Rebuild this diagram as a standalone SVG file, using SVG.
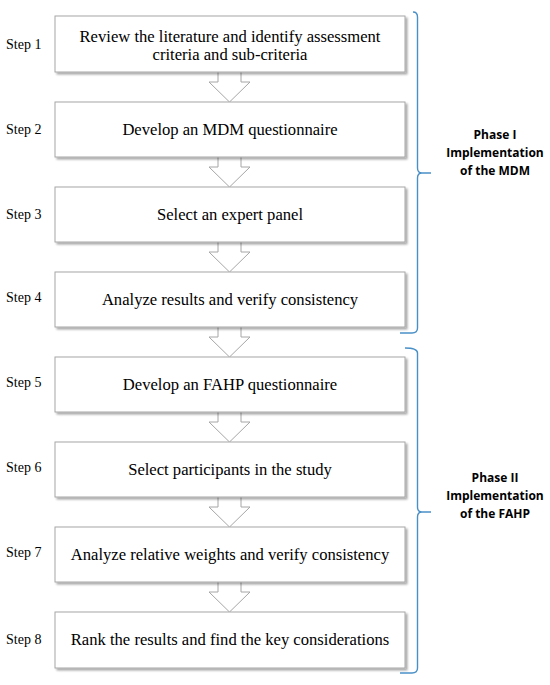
<svg xmlns="http://www.w3.org/2000/svg" width="550" height="685" viewBox="0 0 550 685">
<defs>
<filter id="sh" x="-5%" y="-10%" width="115%" height="130%">
<feGaussianBlur in="SourceAlpha" stdDeviation="1.2"/>
<feOffset dx="1.5" dy="1.5"/>
<feComponentTransfer><feFuncA type="linear" slope="0.35"/></feComponentTransfer>
<feMerge><feMergeNode/><feMergeNode in="SourceGraphic"/></feMerge>
</filter>
</defs>
<style>
.box{fill:#fff;stroke:#a6a6a6;stroke-width:1;filter:url(#sh)}
.arr{fill:#fff;stroke:#a6a6a6;stroke-width:1}
.t{font-family:"Liberation Serif",serif;font-size:16.6px;fill:#000;text-anchor:middle}
.s{font-family:"Liberation Serif",serif;font-size:14px;fill:#000}
.br{fill:none;stroke:#4a90c8;stroke-width:1.4}
.ph{font-family:"Open Sans","Liberation Sans",sans-serif;font-weight:bold;font-size:12px;fill:#000;text-anchor:middle}
</style>
<rect width="550" height="685" fill="#fff"/>
<g id="connectors">
<path class="arr" d="M218,72 V82 H209 L229.5,102 L250,82 H241 V72"/>
<path class="arr" d="M218,157 V167 H209 L229.5,187 L250,167 H241 V157"/>
<path class="arr" d="M218,242 V252 H209 L229.5,272 L250,252 H241 V242"/>
<path class="arr" d="M218,327 V337 H209 L229.5,357 L250,337 H241 V327"/>
<path class="arr" d="M218,412 V422 H209 L229.5,442 L250,422 H241 V412"/>
<path class="arr" d="M218,497 V507 H209 L229.5,527 L250,507 H241 V497"/>
<path class="arr" d="M218,582 V592 H209 L229.5,612 L250,592 H241 V582"/>
</g>
<g id="step1"><rect class="box" x="55" y="16" width="350" height="56"/><text class="s" x="6" y="49">Step 1</text><text class="t" x="230" y="42">Review the literature and identify assessment</text><text class="t" x="230" y="60">criteria and sub-criteria</text></g>
<g id="step2"><rect class="box" x="55" y="102" width="350" height="55"/><text class="s" x="6" y="134">Step 2</text><text class="t" x="230" y="135">Develop an MDM questionnaire</text></g>
<g id="step3"><rect class="box" x="55" y="187" width="350" height="55"/><text class="s" x="6" y="219">Step 3</text><text class="t" x="230" y="220">Select an expert panel</text></g>
<g id="step4"><rect class="box" x="55" y="272" width="350" height="55"/><text class="s" x="6" y="302">Step 4</text><text class="t" x="230" y="305">Analyze results and verify consistency</text></g>
<g id="step5"><rect class="box" x="55" y="357" width="350" height="55"/><text class="s" x="6" y="387">Step 5</text><text class="t" x="230" y="390">Develop an FAHP questionnaire</text></g>
<g id="step6"><rect class="box" x="55" y="442" width="350" height="55"/><text class="s" x="6" y="472">Step 6</text><text class="t" x="230" y="475">Select participants in the study</text></g>
<g id="step7"><rect class="box" x="55" y="527" width="350" height="55"/><text class="s" x="6" y="557">Step 7</text><text class="t" x="230" y="560">Analyze relative weights and verify consistency</text></g>
<g id="step8"><rect class="box" x="55" y="612" width="350" height="56"/><text class="s" x="6" y="644">Step 8</text><text class="t" x="230" y="645">Rank the results and find the key considerations</text></g>
<g id="phase1">
<path class="br" d="M413,12 Q417.5,12 417.5,17 V168 Q417.5,173 422,173 H431 M422,173 Q417.5,173 417.5,178 V328 Q417.5,333 412,333 H400"/>
<text class="ph" x="495" y="139">Phase I</text>
<text class="ph" x="495" y="157">Implementation</text>
<text class="ph" x="495" y="175">of the MDM</text>
</g>
<g id="phase2">
<path class="br" d="M405,348 Q417.5,348 417.5,353 V507 Q417.5,512 422,512 H431 M422,512 Q417.5,512 417.5,517 V668 Q417.5,673 412,673 H400"/>
<text class="ph" x="495" y="482">Phase II</text>
<text class="ph" x="495" y="500">Implementation</text>
<text class="ph" x="495" y="518">of the FAHP</text>
</g>
</svg>
